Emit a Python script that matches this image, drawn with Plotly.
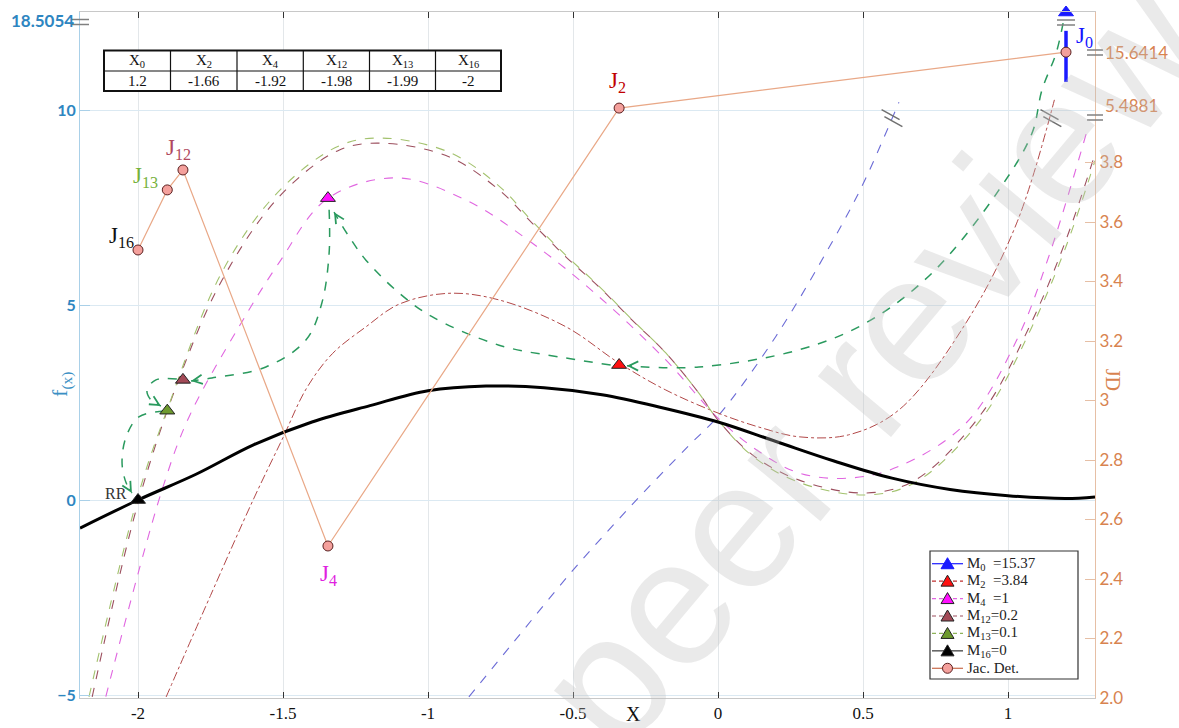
import math
import plotly.graph_objects as go

# ---------------- data ----------------
X_RANGE = [-2.2, 1.3]
Y_RANGE = [-5.077, 12.513]
Y2_RANGE = [2.0, 4.306]

X_TICKS = [-2, -1.5, -1, -0.5, 0, 0.5, 1]
X_TICK_TEXT = ["-2", "-1.5", "-1", "-0.5", "0", "0.5", "1"]
Y_TICKS = [-5, 0, 5, 10]
Y2_TICKS = [2.0, 2.2, 2.4, 2.6, 2.8, 3.0, 3.2, 3.4, 3.6, 3.8]
Y2_TICK_TEXT = ["2.0", "2.2", "2.4", "2.6", "2.8", "3", "3.2", "3.4", "3.6", "3.8"]

# f(x)  (black curve)
F_X = [-2.2, -2.0, -1.8, -1.6, -1.4, -1.2, -1.0, -0.8, -0.6, -0.4, -0.2, 0.0,
       0.2, 0.4, 0.6, 0.8, 1.0, 1.2, 1.3]
F_Y = [-0.72, 0.0, 0.66, 1.42, 2.0, 2.42, 2.8, 2.92, 2.88, 2.7, 2.38, 2.0,
       1.5, 1.0, 0.56, 0.27, 0.11, 0.04, 0.08]

# modified curves
M0_X = [-0.859, -0.7, -0.5, -0.3, -0.1, 0.0, 0.2, 0.4, 0.5, 0.624]
M0_Y = [-5.05, -3.6, -1.8, -0.15, 1.4, 2.15, 4.2, 6.7, 8.1, 10.2]
M0_SEG_X = [1.2, 1.2]
M0_SEG_Y = [10.72, 12.03]

M2_X = [-1.903, -1.75, -1.6, -1.5, -1.42, -1.33, -1.214, -1.1, -0.928, -0.755, -0.524, -0.341,
        -0.18, 0.0, 0.15, 0.28, 0.45, 0.624, 0.855, 1.03, 1.16]
M2_Y = [-5.05, -2.45, 0.05, 1.6, 2.85, 3.75, 4.44, 5.02, 5.3, 5.13, 4.44, 3.51,
        2.82, 2.23, 1.85, 1.62, 1.67, 2.31, 4.54, 7.1, 10.26]

M4_X = [-2.111, -1.917, -1.824, -1.652, -1.514, -1.348, -1.11, -0.869, -0.641, -0.41,
        -0.18, 0.0, 0.14, 0.28, 0.45, 0.62, 0.855, 1.03, 1.14, 1.27]
M4_Y = [-5.04, 0.26, 2.13, 4.44, 6.08, 7.72, 8.26, 7.69, 6.59, 5.21,
        3.59, 2.1, 1.25, 0.69, 0.56, 0.85, 1.97, 4.1, 6.23, 9.4]

M12_X = [-2.158, -2.0, -1.86, -1.71, -1.514, -1.307, -1.159, -0.928, -0.755, -0.641,
         -0.524, -0.41, -0.297, -0.18, -0.066, 0.0, 0.12, 0.28, 0.51, 0.68,
         0.91, 1.08, 1.2, 1.297]
M12_Y = [-5.05, -0.08, 3.08, 5.64, 7.77, 8.97, 9.15, 8.8, 7.95, 7.1,
         6.23, 5.46, 4.62, 3.77, 2.74, 2.05, 1.15, 0.51, 0.18, 0.51,
         2.23, 4.54, 6.67, 8.8]

M13_X = [-2.169, -2.0, -1.9, -1.71, -1.514, -1.307, -1.159, -0.928, -0.755, -0.641,
         -0.524, -0.41, -0.297, -0.18, -0.066, 0.0, 0.12, 0.28, 0.51, 0.68,
         0.91, 1.08, 1.2, 1.3]
M13_Y = [-5.05, 0.1, 2.3, 5.85, 7.92, 9.08, 9.28, 8.92, 8.05, 7.15,
         6.27, 5.48, 4.63, 3.77, 2.74, 2.05, 1.12, 0.45, 0.13, 0.45,
         2.1, 4.4, 6.5, 8.7]

# iterates
ITER_NAMES = ["0", "2", "4", "12", "13", "16"]
ITER_X = [1.2, -0.341, -1.345, -1.845, -1.899, -2.0]
ITER_F = [18.5054, 3.46, 7.74, 3.08, 2.29, 0.0]
ITER_J = [15.6414, 5.4881, 2.511, 3.775, 3.708, 3.506]
LEGEND_TEXT = ["M<sub>0</sub>  =15.37", "M<sub>2</sub>  =3.84", "M<sub>4</sub>  =1",
               "M<sub>12</sub>=0.2", "M<sub>13</sub>=0.1", "M<sub>16</sub>=0", "Jac. Det."]

# broken axes: values beyond the break are drawn at these positions
LEFT_BREAK = {18.5054: 12.5}
RIGHT_BREAK = {15.6414: 4.171, 5.4881: 3.983}

# table
TABLE_HEAD = ["X<sub>0</sub>", "X<sub>2</sub>", "X<sub>4</sub>",
              "X<sub>12</sub>", "X<sub>13</sub>", "X<sub>16</sub>"]
TABLE_VALS = ["1.2", "-1.66", "-1.92", "-1.98", "-1.99", "-2"]

# dashed green arrows between iterates
ARROWS = [
    ([1.19, 1.166, 1.117, 1.083, 0.969, 0.738, 0.51, 0.279, -0.066, -0.314],
     [12.23, 11.46, 10.51, 9.41, 7.95, 5.82, 4.54, 3.85, 3.41, 3.44]),
    ([-0.37, -0.524, -0.755, -0.986, -1.1, -1.214, -1.272, -1.324],
     [3.46, 3.64, 3.97, 4.7, 5.31, 6.15, 6.75, 7.38]),
    ([-1.341, -1.341, -1.366, -1.421, -1.559, -1.745, -1.817],
     [7.44, 6.33, 5.05, 4.10, 3.41, 3.13, 3.05]),
    ([-1.866, -1.938, -1.969, -1.955, -1.921],
     [3.10, 3.08, 2.82, 2.56, 2.41]),
    ([-1.91, -1.997, -2.041, -2.055, -2.041, -2.021],
     [2.28, 2.13, 1.62, 0.95, 0.44, 0.18]),
]

# ---------------- style ----------------
SERIF = "Liberation Serif"
SANS = "Lato"
BLUE_AX = "#2e86c1"
ORANGE_AX = "#d8834f"
GREEN = "#2a9a5e"
TRI_COLORS = ["#1a1aff", "#ff1010", "#ff10ff", "#a34a57", "#6e9a2e", "#000000"]
TRI_EDGES = ["#1a1aff", "#222222", "#222222", "#222222", "#222222", "#222222"]
LBL_COLORS = ["#1414ff", "#c00000", "#e020e0", "#b0485e", "#76b13a", "#111111"]
CURVE_STYLE = [
    ("#6b6bd6", "dash", 1.1),
    ("#b24848", "dashdot", 1.0),
    ("#e066e0", "dash", 1.1),
    ("#9c4f5e", "dash", 1.1),
    ("#a3c26e", "dash", 1.1),
]
LEGEND_LINES = [("#1a1aff", "solid"), ("#c03030", "4px,3px"), ("#e066e0", "4px,3px"),
                ("#9c4f5e", "4px,3px"), ("#8fb35a", "4px,3px"), ("#333333", "solid"),
                ("#c86a4a", "solid")]
J_LINE = "#e9a887"
J_FILL = "#f4a09c"


def disp_left(v):
    return LEFT_BREAK.get(v, v)


def disp_right(v):
    return RIGHT_BREAK.get(v, v)


W, H = 1179, 728
ML, MR, MT, MB = 80, 84, 12, 30
PW, PH = W - ML - MR, H - MT - MB
PX_X = PW / (X_RANGE[1] - X_RANGE[0])
PX_Y = PH / (Y_RANGE[1] - Y_RANGE[0])


def paper_y(v):
    return (v - Y_RANGE[0]) / (Y_RANGE[1] - Y_RANGE[0])


def paper_y2(v):
    return (v - Y2_RANGE[0]) / (Y2_RANGE[1] - Y2_RANGE[0])


def px2paper(px, py):
    return (px - ML) / PW, (H - MB - py) / PH


fig = go.Figure()

# curves
curves = [(M0_X, M0_Y), (M2_X, M2_Y), (M4_X, M4_Y), (M12_X, M12_Y), (M13_X, M13_Y)]
for (cx, cy), (col, dash, w) in zip(curves, CURVE_STYLE):
    fig.add_trace(go.Scatter(x=cx, y=cy, mode="lines", showlegend=False,
                             line=dict(color=col, dash=dash, width=w, shape="spline", smoothing=1.0),
                             hoverinfo="skip"))

# f(x)
fig.add_trace(go.Scatter(x=F_X, y=F_Y, mode="lines", showlegend=False,
                         line=dict(color="#000000", width=3, shape="spline", smoothing=1.0)))

# M0 solid segment
fig.add_trace(go.Scatter(x=M0_SEG_X, y=M0_SEG_Y, mode="lines", showlegend=False,
                         line=dict(color="#1a1aff", width=3.5), cliponaxis=False))

# green arrows
for ax_, ay_ in ARROWS:
    fig.add_trace(go.Scatter(x=ax_, y=ay_, mode="lines", showlegend=False,
                             line=dict(color=GREEN, dash="dash", width=1.5, shape="spline", smoothing=1.0),
                             hoverinfo="skip"))
    dx = (ax_[-1] - ax_[-2]) * PX_X
    dy = -(ay_[-1] - ay_[-2]) * PX_Y
    n = math.hypot(dx, dy)
    fig.add_annotation(x=ax_[-1], y=ay_[-1], xref="x", yref="y", text="",
                       showarrow=True, arrowhead=5, arrowsize=1.4, arrowwidth=1.3,
                       arrowcolor=GREEN, ax=-dx / n * 6, ay=-dy / n * 6)

# Jacobian determinant line (right axis)
fig.add_trace(go.Scatter(x=ITER_X, y=[disp_right(v) for v in ITER_J], yaxis="y2",
                         mode="lines+markers", showlegend=False, cliponaxis=False,
                         line=dict(color=J_LINE, width=1.2),
                         marker=dict(symbol="circle", size=10, color=J_FILL,
                                     line=dict(color="#5a2020", width=1))))

# iterate triangles
for i in range(len(ITER_X)):
    fig.add_trace(go.Scatter(x=[ITER_X[i]], y=[disp_left(ITER_F[i])], mode="markers",
                             showlegend=False, cliponaxis=False,
                             marker=dict(symbol="triangle-up", size=13, color=TRI_COLORS[i],
                                         line=dict(color=TRI_EDGES[i], width=1))))

shapes = []

# ---------- legend (drawn box) ----------
LG_L, LG_T, LG_R, LG_B = 930, 551, 1078, 679
x0p, y0p = px2paper(LG_L, LG_B)
x1p, y1p = px2paper(LG_R, LG_T)
shapes.append(dict(type="rect", xref="paper", yref="paper", x0=x0p, y0=y0p, x1=x1p, y1=y1p,
                   fillcolor="white", line=dict(color="#333333", width=1.2), layer="above"))
row_h = (LG_B - LG_T - 6) / len(LEGEND_TEXT)
for k, label in enumerate(LEGEND_TEXT):
    cy = LG_T + 4 + row_h * (k + 0.5)
    a, b = px2paper(LG_L + 2, cy)
    c, _ = px2paper(LG_L + 33, cy)
    shapes.append(dict(type="line", xref="paper", yref="paper", x0=a, x1=c, y0=b, y1=b,
                       line=dict(color=LEGEND_LINES[k][0], dash=LEGEND_LINES[k][1], width=1.2),
                       layer="above"))
    mx = LG_L + 17.5
    if k < 6:
        pts = [px2paper(mx, cy - 6), px2paper(mx - 6.5, cy + 5), px2paper(mx + 6.5, cy + 5)]
        path = "M{},{} L{},{} L{},{} Z".format(pts[0][0], pts[0][1], pts[1][0], pts[1][1],
                                                pts[2][0], pts[2][1])
        shapes.append(dict(type="path", xref="paper", yref="paper", path=path,
                           fillcolor=TRI_COLORS[k], line=dict(color=TRI_EDGES[k], width=1),
                           layer="above"))
    else:
        p0 = px2paper(mx - 5, cy + 5)
        p1 = px2paper(mx + 5, cy - 5)
        shapes.append(dict(type="circle", xref="paper", yref="paper", x0=p0[0], y0=p0[1],
                           x1=p1[0], y1=p1[1], fillcolor=J_FILL,
                           line=dict(color="#5a2020", width=1), layer="above"))
    tx, ty = px2paper(LG_L + 35, cy)
    fig.add_annotation(x=tx, y=ty, xref="paper", yref="paper", text=label, showarrow=False,
                       xanchor="left", yanchor="middle",
                       font=dict(family=SERIF, size=15, color="#222222"))

# ---------- table (drawn grid) ----------
TB_COLS = [104, 170.5, 237, 303.3, 369.5, 435.5, 501]
TB_ROWS = [50.5, 71, 91]
a, b = px2paper(TB_COLS[0], TB_ROWS[-1])
c, d = px2paper(TB_COLS[-1], TB_ROWS[0])
shapes.append(dict(type="rect", xref="paper", yref="paper", x0=a, y0=b, x1=c, y1=d,
                   fillcolor="white", line=dict(color="#111111", width=2), layer="above"))
for cx in TB_COLS[1:-1]:
    p, _ = px2paper(cx, 0)
    shapes.append(dict(type="line", xref="paper", yref="paper", x0=p, x1=p, y0=b, y1=d,
                       line=dict(color="#111111", width=1.2), layer="above"))
_, mid = px2paper(0, TB_ROWS[1])
shapes.append(dict(type="line", xref="paper", yref="paper", x0=a, x1=c, y0=mid, y1=mid,
                   line=dict(color="#111111", width=1.2), layer="above"))
for k in range(len(TABLE_HEAD)):
    cx = (TB_COLS[k] + TB_COLS[k + 1]) / 2
    for row, txt in ((0, TABLE_HEAD[k]), (1, TABLE_VALS[k])):
        cy = (TB_ROWS[row] + TB_ROWS[row + 1]) / 2
        tx, ty = px2paper(cx, cy)
        fig.add_annotation(x=tx, y=ty, xref="paper", yref="paper", text=txt, showarrow=False,
                           xanchor="center", yanchor="middle",
                           font=dict(family=SERIF, size=15, color="#111111"))

# J labels
J_OFFSETS = [(18, 15), (-2, 26), (1, -29), (-4, 21), (-22, 13), (-17, 13)]
for i in range(len(ITER_X)):
    fig.add_annotation(x=ITER_X[i], y=disp_right(ITER_J[i]), xref="x", yref="y2",
                       text="J<sub>%s</sub>" % ITER_NAMES[i], showarrow=False,
                       xanchor="center", yanchor="middle",
                       xshift=J_OFFSETS[i][0], yshift=J_OFFSETS[i][1],
                       font=dict(family=SERIF, size=23, color=LBL_COLORS[i]))

# RR label
fig.add_annotation(x=ITER_X[5], y=ITER_F[5], xref="x", yref="y", text="RR", showarrow=False,
                   xanchor="center", yanchor="middle",
                   xshift=-22, yshift=7, font=dict(family=SERIF, size=16, color="#333333"))

# broken axis labels
fig.add_annotation(x=0, y=12.3, xref="paper", yref="y", text="<b>18.5054</b>", showarrow=False,
                   xanchor="right", yanchor="middle", xshift=-4,
                   font=dict(family=SANS, size=17, color=BLUE_AX))
for val, pos in RIGHT_BREAK.items():
    fig.add_annotation(x=1, y=pos, xref="paper", yref="y2", text=str(val), showarrow=False,
                       xanchor="left", yanchor="middle", xshift=8, yshift=3 if val < 10 else 0,
                       font=dict(family=SANS, size=17, color=ORANGE_AX))

# axis titles
fig.add_annotation(x=-0.29, y=-(714 - (H - MB)) / PH, xref="x", yref="paper", text="X",
                   showarrow=False, xanchor="center", yanchor="middle",
                   font=dict(family=SERIF, size=20, color="#111111"))
fig.add_annotation(x=-18 / PW, y=paper_y(2.95), xref="paper", yref="paper", text="f<sub>(x)</sub>",
                   showarrow=False, textangle=-90, xanchor="center", yanchor="middle",
                   font=dict(family=SERIF, size=22, color="#3a8fc4"))
fig.add_annotation(x=1 + 18 / PW, y=paper_y2(3.07), xref="paper", yref="paper", text="JD",
                   showarrow=False, textangle=90, xanchor="center", yanchor="middle",
                   font=dict(family=SERIF, size=20, color=ORANGE_AX))

# watermark
wx, wy = px2paper(870, 364)
fig.add_annotation(x=wx, y=wy, xref="paper", yref="paper",
                   text="peer review", showarrow=False, textangle=-50,
                   xanchor="center", yanchor="middle",
                   font=dict(family="Liberation Sans", size=180, color="rgba(190,190,190,0.33)"))


# break marks
def eq_mark(px_x, py_list, half=9):
    for py in py_list:
        p0 = px2paper(px_x - half, py)
        p1 = px2paper(px_x + half, py)
        shapes.append(dict(type="line", xref="paper", yref="paper",
                           x0=p0[0], x1=p1[0], y0=p0[1], y1=p1[1],
                           line=dict(color="#808080", width=1.5)))


def slash_mark(xv, yv):
    cx = ML + (xv - X_RANGE[0]) * PX_X
    cy = MT + (Y_RANGE[1] - yv) * PX_Y
    for off in (-3.5, 3.5):
        p0 = px2paper(cx - 9 + off * 0.4, cy - 5 + off)
        p1 = px2paper(cx + 9 + off * 0.4, cy + 5 + off)
        shapes.append(dict(type="line", xref="paper", yref="paper",
                           x0=p0[0], x1=p1[0], y0=p0[1], y1=p1[1],
                           line=dict(color="#707070", width=1.5)))


eq_mark(ML, [19.5, 24.5])
eq_mark(ML + (ITER_X[0] - X_RANGE[0]) * PX_X, [20, 25])
eq_mark(W - MR, [50, 55], half=8)
eq_mark(W - MR, [115, 120], half=8)
slash_mark(0.6, 9.79)
slash_mark(1.148, 9.79)

fig.update_layout(
    width=W, height=H, margin=dict(l=ML, r=MR, t=MT, b=MB, autoexpand=False),
    paper_bgcolor="white", plot_bgcolor="white",
    showlegend=False,
    shapes=shapes,
    xaxis=dict(range=X_RANGE, tickvals=X_TICKS, ticktext=X_TICK_TEXT, ticks="inside",
               ticklen=6, tickcolor="#333333", tickwidth=1, mirror="ticks", automargin=False,
               showline=True, linecolor="#c8c8c8", showgrid=True, gridcolor="#e3e7ea",
               zeroline=False, tickfont=dict(family=SERIF, size=17, color="#111111")),
    yaxis=dict(range=Y_RANGE, tickvals=Y_TICKS, ticks="inside", ticklen=10, automargin=False,
               tickcolor="#a9d0e8", showline=True, linecolor="#a9d0e8", showgrid=True,
               gridcolor="#dbe9f2", zeroline=False,
               tickfont=dict(family=SANS, size=16, color=BLUE_AX, weight="bold")),
    yaxis2=dict(overlaying="y", side="right", range=Y2_RANGE, tickvals=Y2_TICKS,
                ticktext=Y2_TICK_TEXT, ticks="inside", ticklen=10, automargin=False,
                tickcolor="#e6bfa5", showline=True, linecolor="#e6bfa5", showgrid=False,
                zeroline=False, tickfont=dict(family=SANS, size=17, color=ORANGE_AX)),
)

fig.write_html("out.html", config={"displayModeBar": False},
               post_script="document.body.style.margin='0';")
